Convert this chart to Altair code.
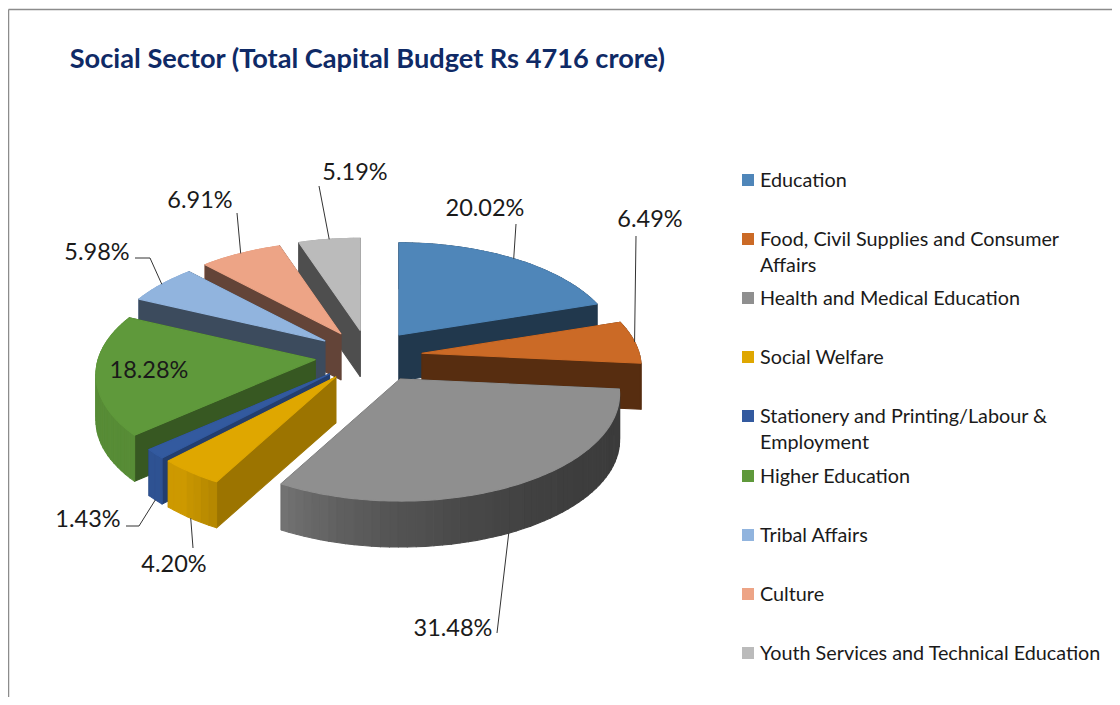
import math
import altair as alt
import pandas as pd

categories = ["Education", "Food, Civil Supplies  and Consumer Affairs", "Health and Medical Education",
              "Social Welfare", "Stationery and Printing/Labour & Employment", "Higher Education",
              "Tribal Affairs", "Culture", "Youth Services and Technical Education"]
legend_line1 = ["Education", "Food, Civil Supplies  and Consumer", "Health and Medical Education",
                "Social Welfare", "Stationery and Printing/Labour &", "Higher Education",
                "Tribal Affairs", "Culture", "Youth Services and Technical Education"]
legend_line2 = ["", "Affairs", "", "", "Employment", "", "", "", ""]
shares = [20.02, 6.49, 31.48, 4.20, 1.43, 18.28, 5.98, 6.91, 5.19]
share_labels = ["20.02%", "6.49%", "31.48%", "4.20%", "1.43%", "18.28%", "5.98%", "6.91%", "5.19%"]
top_colors = ["#4F86B9", "#CB6A26", "#8F8F8F", "#DFA700", "#335A9F", "#5F993B", "#91B4DE", "#EDA486", "#BBBBBB"]
cut_factor = [0.42, 0.43, 0.42, 0.70, 0.70, 0.58, 0.42, 0.42, 0.42]
paint_order = [0, 1, 2, 8, 7, 6, 5, 4, 3]

# projection of the tilted disc (in units of the chart's x and y scales)
CX, CY, EX, EY = 369, 356, 54.4, 26
A, B, K, DEPTH = 217, 105, 0.14, 46
explode_nudge = [-2, -1, 6, -1, 0, 0, 0, 0, 0]
leader_angle_shift = [0, 0, 2, 0, 0, 0, 0, 0, 0]

# label layout
label_x = [485, 650, 453, 174, 88, 149, 97, 200, 355]
label_y = [209, 220, 629, 565, 520, 371, 253, 201, 173]
leader_end_x = [516, 636, 497, 193, 126, None, 135, 237, 319]
leader_end_y = [224, 236, 633, 548, 526, None, 258, 213, 186]
leader_elbow_x = [None, None, None, None, 139, None, 150, None, None]
leader_elbow_y = [None, None, None, None, 526, None, 258, None, None]
leader_from_wall = [False, False, True, True, True, False, False, False, False]
legend_y = [180, 239, 298, 357, 416, 476, 535, 594, 653]
LEGEND_SYMBOL_X, LEGEND_TEXT_X, LEGEND_LINE = 748, 760, 26


def shade(color, factor):
    f = round(factor * 100) / 100
    rgb = [int(color[i:i + 2], 16) for i in (1, 3, 5)]
    return "#%02X%02X%02X" % tuple(int(c * f) for c in rgb)


def rim(theta, ax, ay):
    t = math.radians(theta)
    f = 1 / (1 + K * math.cos(t))
    return ax + A * math.sin(t) * f, ay - B * math.cos(t) * f


total = sum(shares)
starts, ends, c = [], [], 0.0
for s in shares:
    starts.append(c / total * 360)
    c += s
    ends.append(c / total * 360)

apexes, mids = [], []
for st, en, nudge in zip(starts, ends, explode_nudge):
    m = math.radians((st + en) / 2)
    mids.append((st + en) / 2)
    apexes.append((CX + EX * math.sin(m) + nudge, CY - EY * math.cos(m)))

rows = []
face_no = 0


def add_face(key, pts):
    global face_no
    face_no += 1
    for n, (x, y) in enumerate(pts):
        rows.append({"x": x, "y": y, "key": key, "face": face_no, "seq": n})


for i in paint_order:
    ax, ay = apexes[i]
    st, en = starts[i], ends[i]
    cut = shade(top_colors[i], cut_factor[i])
    faces = []
    for th in (st, en):
        p = rim(th, ax, ay)
        faces.append((cut, [(ax, ay), p, (p[0], p[1] + DEPTH), (ax, ay + DEPTH)]))
    n = max(2, int((en - st) / 2))
    for j in range(n):
        t0 = st + (en - st) * j / n
        t1 = st + (en - st) * (j + 1) / n
        p0, p1 = rim(t0, ax, ay), rim(t1, ax, ay)
        u = ((t0 + t1) / 2 - 95) / 113
        fac = min(0.92, 0.42 + 0.38 * max(u, 0) ** 3)
        faces.append((shade(top_colors[i], fac),
                      [p0, p1, (p1[0], p1[1] + DEPTH), (p0[0], p0[1] + DEPTH)]))
    faces.sort(key=lambda f: sum(q[1] for q in f[1]) / len(f[1]))
    for key, pts in faces:
        add_face(key, pts)
    n = max(3, int(en - st))
    add_face(categories[i], [(ax, ay)] + [rim(st + (en - st) * j / n, ax, ay) for j in range(n + 1)])

df = pd.DataFrame(rows)
extra = sorted(k for k in df["key"].unique() if k not in categories)
color_scale = alt.Scale(domain=categories + extra, range=top_colors + extra)

xs = alt.Scale(domain=[8, 1112], range=[0, 1104])
ys = alt.Scale(domain=[8, 697], range=[0, 689])
X = alt.X("x:Q", scale=xs, axis=None)
Y = alt.Y("y:Q", scale=ys, axis=None)

pie = alt.Chart(df).mark_line(interpolate="linear-closed", strokeWidth=1.1, strokeJoin="round").encode(
    x=X, y=Y,
    fill=alt.Fill("key:N", scale=color_scale, legend=None),
    stroke=alt.Stroke("key:N", scale=color_scale, legend=None),
    detail="face:N", order="seq:Q")

leader_rows = []
for i in range(len(categories)):
    if leader_end_x[i] is None:
        continue
    ax, ay = apexes[i]
    p = rim(mids[i] + leader_angle_shift[i], ax, ay)
    pts = [(p[0], p[1] + (DEPTH if leader_from_wall[i] else 0))]
    if leader_elbow_x[i] is not None:
        pts.append((leader_elbow_x[i], leader_elbow_y[i]))
    pts.append((leader_end_x[i], leader_end_y[i]))
    for n, (x, y) in enumerate(pts):
        leader_rows.append({"x": x, "y": y, "who": categories[i], "seq": n})

leaders = alt.Chart(pd.DataFrame(leader_rows)).mark_line(color="#333333", strokeWidth=1).encode(
    x=X, y=Y, detail="who:N", order="seq:Q")

texts = alt.Chart(pd.DataFrame({"x": label_x, "y": label_y, "t": share_labels})).mark_text(
    font="Lato", fontSize=23.5, color="#1a1a1a", baseline="middle", align="center").encode(x=X, y=Y, text="t:N")

legend_df = pd.DataFrame({"key": categories, "y": legend_y, "x": [LEGEND_SYMBOL_X] * 9})
legend_marks = alt.Chart(legend_df).mark_square(size=144, opacity=1, strokeWidth=0).encode(
    x=X, y=Y, fill=alt.Fill("key:N", scale=color_scale, legend=None))

legend_text_rows = []
for yy, l1, l2 in zip(legend_y, legend_line1, legend_line2):
    legend_text_rows.append({"x": LEGEND_TEXT_X, "y": yy + 1, "t": l1})
    if l2:
        legend_text_rows.append({"x": LEGEND_TEXT_X, "y": yy + 1 + LEGEND_LINE, "t": l2})
legend_texts = alt.Chart(pd.DataFrame(legend_text_rows)).mark_text(
    font="Lato", fontSize=19.8, color="#1a1a1a", baseline="middle", align="left").encode(x=X, y=Y, text="t:N")

frame_top = alt.Chart(pd.DataFrame({"a": [0]})).mark_rule(color="#8c8c8c", strokeWidth=1.5).encode(
    x=alt.value(0.5), x2=alt.value(1104), y=alt.value(1.5))
frame_left = alt.Chart(pd.DataFrame({"a": [0]})).mark_rule(color="#8c8c8c", strokeWidth=1.5).encode(
    x=alt.value(0.5), y=alt.value(1.5), y2=alt.value(689))

chart = alt.layer(frame_top, frame_left, pie, leaders, texts, legend_marks, legend_texts).properties(
    width=1104, height=689, padding=0, autosize=alt.AutoSizeParams(type="none"),
    title=alt.TitleParams("Social Sector (Total Capital Budget Rs 4716 crore)", anchor="start", dx=62, dy=70,
                          font="Lato", fontSize=27.2, fontWeight="bold", color="#0F2A66")
).configure_view(stroke=None)

chart.save("out.html", embed_options={"renderer": "svg", "actions": False})
